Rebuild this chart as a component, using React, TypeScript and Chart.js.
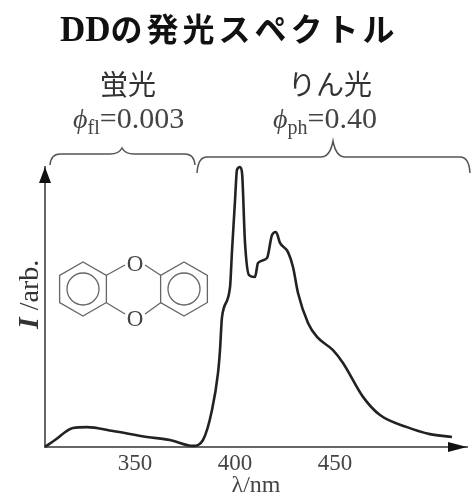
import React, { useEffect, useRef } from "react";
import { Chart, registerables } from "chart.js";

Chart.register(...registerables);

const wavelengths = [305, 310, 319, 326, 339, 356, 367.5, 379, 384, 388.5, 391.5, 392.5, 393.5, 397.5, 398.5, 400, 401, 402.5, 403.5, 405, 407, 410, 411.5, 416, 418.5, 420.5, 422.5, 426.5, 429, 431.5, 436.5, 441, 449, 454, 464, 472.5, 486, 497.5, 508.5];
const intensities = [0, 2.5, 6.8, 7.1, 5.7, 3.6, 2.5, 0.4, 2.5, 13.2, 26.4, 34.6, 46.4, 57, 70, 88, 99, 100, 98, 73, 61.4, 60.7, 65.7, 67.5, 75.7, 76.8, 72.9, 69.6, 64.3, 55, 44.3, 39.3, 34.6, 30, 17.9, 11.4, 7.1, 4.6, 3.6];
const tickValues = [350, 400, 450];
const titleText = "DDの発光スペクトル";
const xTitle = "λ/nm";
const SERIF = '"Liberation Serif"';
const JP = '"Noto Sans CJK JP"';

function run(ctx: CanvasRenderingContext2D, parts: [string, string, number][], x: number, y: number) {
  let cx = x;
  for (const [t, f, dy] of parts) {
    ctx.font = f;
    ctx.fillText(t, cx, y + dy);
    cx += ctx.measureText(t).width;
  }
}

function brace(ctx: CanvasRenderingContext2D, x0: number, x1: number, xm: number, yl: number, tip: number, end: number) {
  ctx.beginPath();
  ctx.moveTo(x0, end);
  ctx.quadraticCurveTo(x0 + 1, yl, x0 + 10, yl);
  ctx.lineTo(xm - 12, yl);
  ctx.quadraticCurveTo(xm - 3, yl, xm, tip);
  ctx.quadraticCurveTo(xm + 3, yl, xm + 12, yl);
  ctx.lineTo(x1 - 10, yl);
  ctx.quadraticCurveTo(x1 - 1, yl, x1, end);
  ctx.stroke();
}

function molecule(ctx: CanvasRenderingContext2D) {
  const ring = (cx: number, cy: number) => {
    ctx.beginPath();
    for (let i = 0; i < 6; i++) {
      const a = Math.PI / 6 + (i * Math.PI) / 3;
      const px = cx + 27 * Math.cos(a);
      const py = cy + 27 * Math.sin(a);
      if (i === 0) ctx.moveTo(px, py);
      else ctx.lineTo(px, py);
    }
    ctx.closePath();
    ctx.stroke();
    ctx.beginPath();
    ctx.arc(cx, cy, 16, 0, Math.PI * 2);
    ctx.stroke();
  };
  ctx.strokeStyle = "#666";
  ctx.lineWidth = 1.3;
  ring(83, 289);
  ring(184, 289);
  ctx.beginPath();
  ctx.moveTo(106, 275.5); ctx.lineTo(125, 265);
  ctx.moveTo(145, 265); ctx.lineTo(161, 275.5);
  ctx.moveTo(106, 302.5); ctx.lineTo(125, 314);
  ctx.moveTo(145, 314); ctx.lineTo(161, 302.5);
  ctx.stroke();
  ctx.fillStyle = "#444";
  ctx.font = `23px ${SERIF}`;
  ctx.textAlign = "center";
  ctx.textBaseline = "middle";
  ctx.fillText("O", 135, 265);
  ctx.fillText("O", 135, 320);
}

const decorations = {
  id: "decorations",
  afterDraw(chart: Chart) {
    const ctx = chart.ctx;
    const { left, top, right, bottom } = chart.chartArea;
    ctx.save();
    // Title
    ctx.fillStyle = "#111";
    ctx.textBaseline = "alphabetic";
    ctx.textAlign = "left";
    (ctx as any).letterSpacing = "0px";
    ctx.font = `bold 35px ${SERIF}`;
    ctx.fillText(titleText.slice(0, 2), 60, 41);
    const w = ctx.measureText(titleText.slice(0, 2)).width;
    (ctx as any).letterSpacing = "4px";
    ctx.font = `bold 32px ${JP}`;
    ctx.fillText(titleText.slice(2), 60 + w, 41);
    (ctx as any).letterSpacing = "0px";

    // Region labels
    ctx.fillStyle = "#333";
    ctx.font = `28px ${JP}`;
    ctx.fillText("蛍光", 100, 95);
    ctx.fillText("りん光", 288, 95);
    ctx.fillStyle = "#444";
    run(ctx, [["ϕ", `italic 28px ${SERIF}`, 0], ["fl", `20px ${SERIF}`, 6], ["=0.003", `30px ${SERIF}`, 0]], 73, 128);
    run(ctx, [["ϕ", `italic 28px ${SERIF}`, 0], ["ph", `20px ${SERIF}`, 6], ["=0.40", `30px ${SERIF}`, 0]], 273, 128);

    // Braces
    ctx.strokeStyle = "#555";
    ctx.lineWidth = 1.5;
    brace(ctx, 50, 195, 122, 154, 148, 165);
    brace(ctx, 197, 470, 333, 157, 141, 173);

    // Axis arrowheads
    ctx.fillStyle = "#111";
    ctx.beginPath();
    ctx.moveTo(left, top);
    ctx.lineTo(left - 6, top + 16);
    ctx.lineTo(left + 6, top + 16);
    ctx.closePath();
    ctx.fill();
    ctx.beginPath();
    ctx.moveTo(right, bottom);
    ctx.lineTo(right - 19, bottom - 5);
    ctx.lineTo(right - 19, bottom + 5);
    ctx.closePath();
    ctx.fill();

    // Y-axis label
    ctx.save();
    ctx.translate(38, 329);
    ctx.rotate(-Math.PI / 2);
    ctx.fillStyle = "#333";
    ctx.textAlign = "left";
    ctx.textBaseline = "alphabetic";
    run(ctx, [["I", `italic bold 30px ${SERIF}`, 0], [" /", `28px ${SERIF}`, 0], ["arb.", `28px ${SERIF}`, 0]], 0, 0);
    ctx.restore();

    molecule(ctx);
    ctx.restore();
  },
};

export default function App() {
  const ref = useRef<HTMLCanvasElement>(null);
  useEffect(() => {
    const chart = new Chart(ref.current!, {
      type: "scatter",
      data: {
        datasets: [
          {
            data: wavelengths.map((x, i) => ({ x, y: intensities[i] })),
            showLine: true,
            borderColor: "#222",
            borderWidth: 2.6,
            pointRadius: 0,
            cubicInterpolationMode: "monotone",
            clip: false,
          } as any,
        ],
      },
      options: {
        responsive: false,
        animation: false,
        devicePixelRatio: 1,
        layout: { padding: { top: 167, right: 7, left: 0, bottom: 3 } },
        plugins: { legend: { display: false }, tooltip: { enabled: false }, title: { display: false } },
        scales: {
          x: {
            type: "linear",
            min: 305,
            max: 516,
            afterBuildTicks: (s: any) => {
              s.ticks = tickValues.map((value) => ({ value }));
            },
            afterFit: (s: any) => {
              s.height = 53;
            },
            grid: { display: false, drawTicks: false },
            border: { display: true, color: "#666", width: 2 },
            ticks: {
              color: "#444",
              padding: 3,
              maxRotation: 0,
              autoSkip: false,
              font: { family: "Liberation Serif", size: 23 },
            },
            title: {
              display: true,
              text: xTitle,
              color: "#444",
              padding: 0,
              font: { family: "Liberation Serif", size: 24 },
            },
          },
          y: {
            min: 0,
            max: 100,
            afterFit: (s: any) => {
              s.width = 45;
            },
            grid: { display: false, drawTicks: false },
            border: { display: true, color: "#666", width: 2 },
            ticks: { display: false },
          },
        },
      },
      plugins: [decorations],
    } as any);
    return () => chart.destroy();
  }, []);
  return (
    <canvas
      ref={ref}
      width={474}
      height={503}
      style={{ position: "fixed", left: 0, top: 0, width: 474, height: 503, background: "#fff", filter: "blur(0.6px)" }}
    />
  );
}
